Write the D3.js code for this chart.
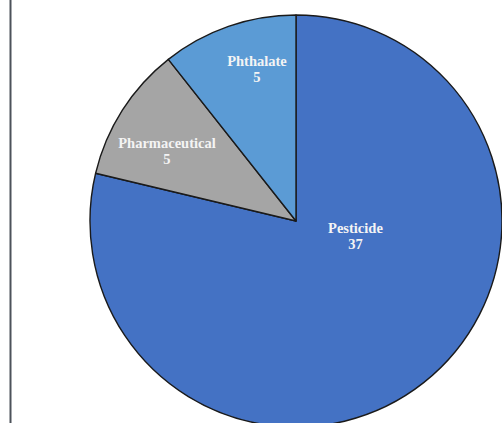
<!DOCTYPE html>
<html>
<head>
<meta charset="utf-8">
<script src="https://cdn.jsdelivr.net/npm/d3@7"></script>
<style>
  html, body { margin: 0; padding: 0; background: #ffffff; }
  svg { display: block; }
</style>
</head>
<body>
<svg id="chart" width="502" height="423"></svg>
<script>
// Chemical classes and their counts
const categories = ["Pesticide", "Pharmaceutical", "Phthalate"];
const counts = [37, 5, 5];
const sliceColors = ["#4472C4", "#A5A5A5", "#5B9BD5"];

const width = 502, height = 423;
const cx = 296, cy = 221, radius = 206;

const svg = d3.select("#chart");

// frame line on the left
svg.append("line")
  .attr("x1", 10.5).attr("x2", 10.5)
  .attr("y1", 0).attr("y2", height)
  .attr("stroke", "#4d525a")
  .attr("stroke-width", 2);

const data = categories.map((c, i) => ({ name: c, value: counts[i], color: sliceColors[i] }));

const pie = d3.pie().value(d => d.value).sort(null);
const arcs = pie(data);

const arc = d3.arc().innerRadius(0).outerRadius(radius);

const g = svg.append("g").attr("transform", `translate(${cx},${cy})`);

g.selectAll("path.slice")
  .data(arcs)
  .enter().append("path")
  .attr("class", "slice")
  .attr("d", arc)
  .attr("fill", d => d.data.color)
  .attr("stroke", "#1a1a1a")
  .attr("stroke-width", 1.4)
  .attr("stroke-linejoin", "round");

// label placement: a centroid at a chosen radius, nudged per slice
const labelArc = {
  Pesticide: { r: 0.45, dx: 2, dy: -58 },
  Pharmaceutical: { r: 0.72, dx: -4, dy: 10 },
  Phthalate: { r: 0.74, dx: 11, dy: -8 }
};

const labels = g.selectAll("g.label")
  .data(arcs)
  .enter().append("g")
  .attr("class", "label")
  .attr("transform", d => {
    const p = labelArc[d.data.name];
    const a = d3.arc().innerRadius(radius * p.r).outerRadius(radius * p.r);
    const [x, y] = a.centroid(d);
    return `translate(${x + p.dx},${y + p.dy})`;
  });

labels.append("text")
  .attr("text-anchor", "middle")
  .attr("font-family", "'Liberation Serif', serif")
  .attr("font-weight", "bold")
  .attr("font-size", 14.5)
  .attr("fill", "#f4f4f4")
  .attr("y", -3)
  .text(d => d.data.name);

labels.append("text")
  .attr("text-anchor", "middle")
  .attr("font-family", "'Liberation Serif', serif")
  .attr("font-weight", "bold")
  .attr("font-size", 14.5)
  .attr("fill", "#f4f4f4")
  .attr("y", 13)
  .text(d => d.data.value);
</script>
</body>
</html>
